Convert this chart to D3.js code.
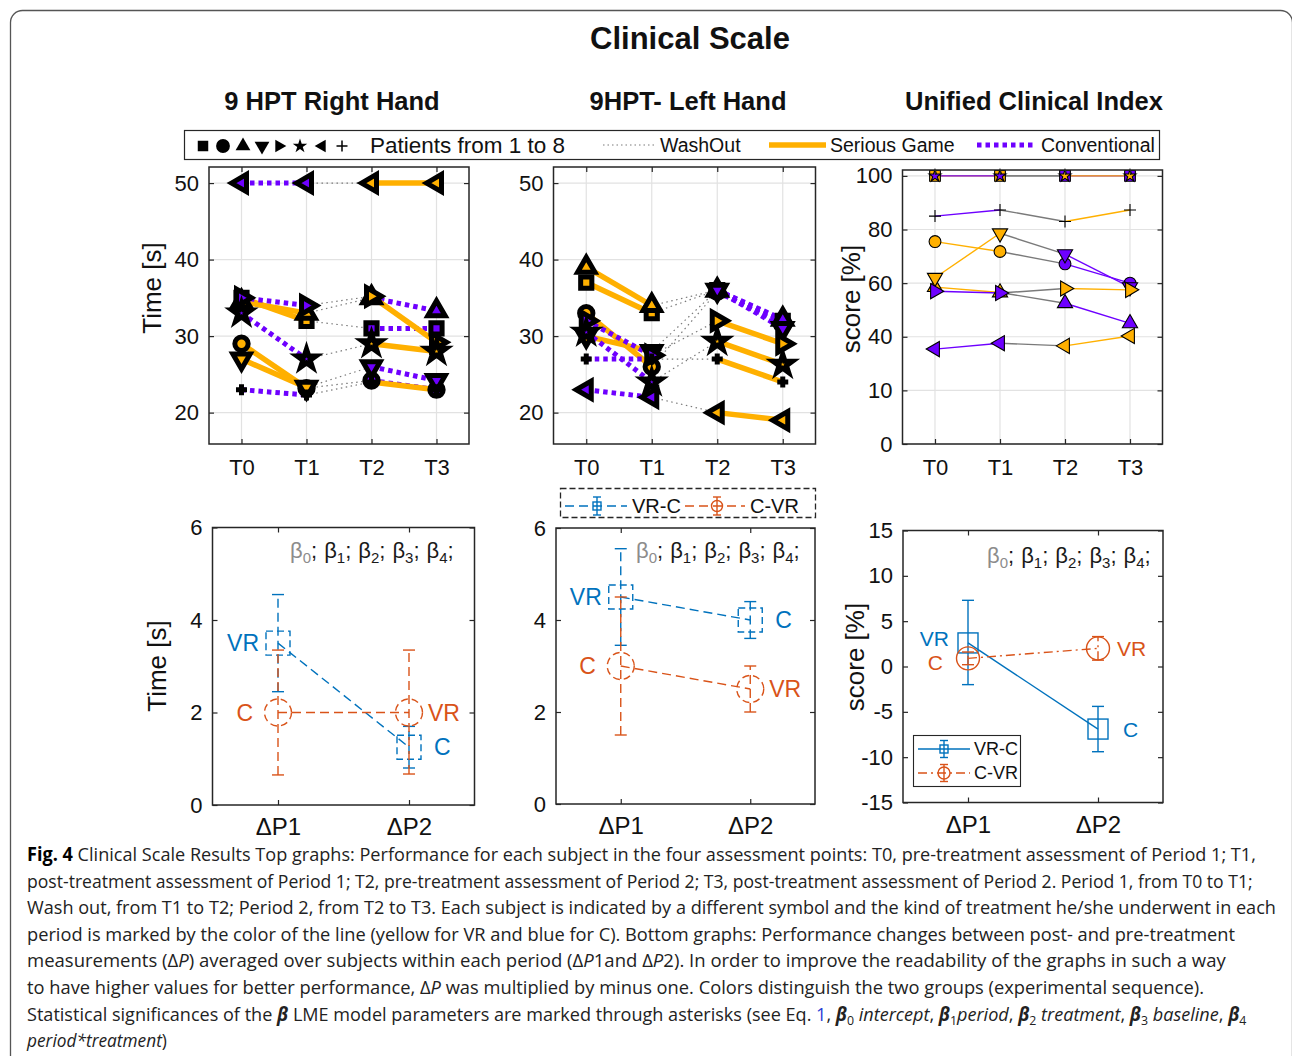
<!DOCTYPE html>
<html>
<head>
<meta charset="utf-8">
<script src="https://cdn.jsdelivr.net/npm/d3@7"></script>
<style>
  body { margin: 0; background: #fff; }
  svg text { font-family: "Liberation Sans", Arial, sans-serif; }
</style>
</head>
<body>
<div id="chart"></div>
<script>
// ---- data ----
var timePoints = ['T0', 'T1', 'T2', 'T3'];
var patientMarkers = ['square', 'circle', 'up', 'down', 'right', 'star', 'left', 'plus'];
var patientGroup = ['VR-C', 'VR-C', 'VR-C', 'VR-C', 'C-VR', 'C-VR', 'C-VR', 'C-VR'];

// 9 HPT right hand, time [s], one row per patient (T0..T3)
var rightHand = [
  [35, 32, 31, 31],
  [29, 23.2, 24.2, 23],
  [34.5, 33, 35, 33.3],
  [27, 23.3, 26, 24.2],
  [35, 34, 35.2, 29.2],
  [33, 27, 29, 28],
  [50, 50, 50, 50],
  [23, 22.3, 24, 23]
];
// 9HPT left hand
var leftHand = [
  [37, 33, 36, 32],
  [33, 26, 35.8, 31.5],
  [39, 34, 36, 32.2],
  [30, 28, 36, 31],
  [32, 27.5, 32, 29],
  [30.5, 24, 29.3, 26.3],
  [23, 22, 20, 19],
  [27, 27, 27, 24]
];
// Unified clinical index, score [%]
var clinicalIndex = [
  [100, 100, 100, 100],
  [75.5, 71.8, 67.2, 60],
  [58.5, 56.5, 52.5, 45],
  [62, 78.6, 70.8, 58.5],
  [57, 56.3, 58, 57.5],
  [100, 100, 100, 100],
  [35.4, 37.6, 36.6, 40.3],
  [85, 87.3, 83, 87.3]
];
var timeTicks = [20, 30, 40, 50];
var indexTicks = [0, 20, 40, 60, 80, 100];
var indexTickLabels = ['0', '10', '40', '60', '80', '100'];

var deltaLabels = ['ΔP1', 'ΔP2'];
var deltaTicksTime = [0, 2, 4, 6];
var deltaTicksScore = [-15, -10, -5, 0, 5, 10, 15];

// bottom panels: mean and [low, high] ends of the error bars
var rightVRC = [3.5, 1.25];
var rightVRCErr = [[2.45, 4.55], [0.8, 1.7]];
var rightCVR = [2.0, 2.0];
var rightCVRErr = [[0.65, 3.35], [0.67, 3.35]];
var leftVRC = [4.5, 4.0];
var leftVRCErr = [[3.45, 5.55], [3.6, 4.4]];
var leftCVR = [3.0, 2.5];
var leftCVRErr = [[1.5, 4.5], [2.0, 3.0]];
var indexVRC = [2.6, -6.9];
var indexVRCErr = [[-2.0, 7.3], [-9.4, -4.4]];
var indexCVR = [0.9, 2.0];
var indexCVRErr = [[0.2, 1.6], [0.7, 3.3]];
var vrcPointLabels = ['VR', 'C'];
var cvrPointLabels = ['C', 'VR'];

// ---- setup ----
var W = 1292, H = 1056;
var colors = {
  sg: '#FFB000', conv: '#6E00FF', wash: '#7a7a7a',
  vrc: '#0072BD', cvr: '#D95319', axis: '#262626', grid: '#e2e2e2'
};
var periodTreat = { 'VR-C': ['sg', 'conv'], 'C-VR': ['conv', 'sg'] };
var markerRotation = { up: 0, down: 180, right: 90, left: -90 };
var font = '"Liberation Sans", Arial, sans-serif';

var svg = d3.select('#chart').append('svg')
    .attr('width', W)
    .attr('height', H);
svg.append('rect').attr('width', W).attr('height', H).attr('fill', '#fff');

// page frame
svg.append('rect')
    .attr('x', 10.5).attr('y', 10.5)
    .attr('width', 1282).attr('height', 1100)
    .attr('rx', 12)
    .attr('fill', 'none').attr('stroke', '#555').attr('stroke-width', 1.3);

function markerPath(kind, size) {
  if (kind === 'plus') return `M${-size},0H${size}M0,${-size}V${size}`;
  var types = { square: d3.symbolSquare, circle: d3.symbolCircle, star: d3.symbolStar };
  return d3.symbol(types[kind] || d3.symbolTriangle, size)();
}

function styleAxis(sel, fs) {
  sel.attr('font-size', fs).attr('font-family', font);
  sel.select('.domain').remove();
  sel.selectAll('line').attr('stroke', colors.axis).attr('stroke-width', 1.2);
  sel.selectAll('text').attr('fill', '#111');
}

function drawAxes(g, x, y, w, h, yTicks, yFormat, xPad, xFont) {
  var ya = d3.axisLeft(y).tickValues(yTicks).tickSize(-5).tickPadding(10)
      .tickFormat(yFormat || (d => String(d)));
  g.append('g').call(ya).call(styleAxis, 22);
  g.append('g').attr('transform', `translate(${w},0)`)
    .call(d3.axisRight(y).tickValues(yTicks).tickSize(-5).tickFormat(''))
    .call(styleAxis, 22);
  g.append('g').attr('transform', `translate(0,${h})`)
    .call(d3.axisBottom(x).tickSize(-5).tickPadding(xPad))
    .call(styleAxis, xFont);
  g.append('g')
    .call(d3.axisTop(x).tickSize(-5).tickFormat(''))
    .call(styleAxis, 22);
  g.append('rect')
    .attr('width', w).attr('height', h)
    .attr('fill', 'none').attr('stroke', colors.axis).attr('stroke-width', 1.5);
}

function yLabel(text, x, y) {
  svg.append('text')
    .attr('transform', `translate(${x},${y}) rotate(-90)`)
    .attr('text-anchor', 'middle')
    .attr('font-size', 26).attr('fill', '#111')
    .text(text);
}

// ---- top panels ----
function trendPanel(cfg) {
  var g = svg.append('g').attr('transform', `translate(${cfg.left},${cfg.top})`);
  var x = d3.scalePoint().domain(timePoints).range([0, cfg.width]).padding(0.5);
  var y = d3.scaleLinear().domain(cfg.yDomain).range([cfg.height, 0]);

  g.append('g').selectAll('line').data(cfg.ticks).join('line')
      .attr('x1', 0).attr('x2', cfg.width)
      .attr('y1', d => y(d)).attr('y2', d => y(d))
      .attr('stroke', colors.grid).attr('stroke-width', 1.2);
  g.append('g').selectAll('line').data(timePoints).join('line')
      .attr('x1', d => x(d)).attr('x2', d => x(d))
      .attr('y1', 0).attr('y2', cfg.height)
      .attr('stroke', colors.grid).attr('stroke-width', 1.2);

  var segs = [];
  cfg.data.forEach(function(vals, p) {
    var treat = periodTreat[patientGroup[p]];
    segs.push({ a: 0, b: 1, kind: treat[0], vals: vals, order: 1 });
    segs.push({ a: 1, b: 2, kind: 'wash', vals: vals, order: 0 });
    segs.push({ a: 2, b: 3, kind: treat[1], vals: vals, order: 1 });
  });
  segs.sort((s, t) => s.order - t.order);

  g.append('g').selectAll('line').data(segs).join('line')
      .attr('x1', d => x(timePoints[d.a])).attr('y1', d => y(d.vals[d.a]))
      .attr('x2', d => x(timePoints[d.b])).attr('y2', d => y(d.vals[d.b]))
      .attr('stroke', d => d.kind === 'wash' ? colors.wash : colors[d.kind])
      .attr('stroke-width', d => cfg.heavy ? (d.kind === 'wash' ? 1.2 : (d.kind === 'sg' ? 5.5 : 5)) : 1.4)
      .attr('stroke-dasharray', d => {
        if (!cfg.heavy) return null;
        if (d.kind === 'wash') return '1.5,3.5';
        if (d.kind === 'conv') return '4.5,4';
        return null;
      });

  var pts = [];
  cfg.data.forEach(function(vals, p) {
    var treat = periodTreat[patientGroup[p]];
    vals.forEach(function(v, i) {
      pts.push({ kind: patientMarkers[p], t: timePoints[i], v: v, fill: colors[treat[i < 2 ? 0 : 1]] });
    });
  });
  var sizes = cfg.heavy
    ? { square: 125, circle: 140, up: 130, down: 130, right: 130, left: 130, star: 115, plus: 5.5 }
    : { square: 115, circle: 110, up: 100, down: 100, right: 100, left: 100, star: 45, plus: 6 };

  g.append('g').selectAll('path').data(pts).join('path')
      .attr('transform', d => `translate(${x(d.t)},${y(d.v)}) rotate(${markerRotation[d.kind] || 0})`)
      .attr('d', d => markerPath(d.kind, sizes[d.kind]))
      .attr('fill', d => d.kind === 'plus' ? 'none' : d.fill)
      .attr('stroke', '#000')
      .attr('stroke-width', d => cfg.heavy ? 5 : 1.1)
      .attr('stroke-linejoin', 'miter');

  drawAxes(g, x, y, cfg.width, cfg.height, cfg.ticks, cfg.tickFormat, 15, 22);
}

trendPanel({ left: 209, top: 167, width: 260, height: 277, data: rightHand,
  yDomain: [15.9, 52.1], ticks: timeTicks, heavy: true });
trendPanel({ left: 553.5, top: 167, width: 262, height: 277, data: leftHand,
  yDomain: [15.9, 52.1], ticks: timeTicks, heavy: true });
trendPanel({ left: 902.5, top: 170, width: 260, height: 274, data: clinicalIndex,
  yDomain: [0, 102.2], ticks: indexTicks, heavy: false,
  tickFormat: (d, i) => indexTickLabels[i] });

yLabel('Time [s]', 161, 288);
yLabel('score [%]', 860, 299);

// ---- bottom panels ----
function deltaPanel(cfg) {
  var g = svg.append('g').attr('transform', `translate(${cfg.left},${cfg.top})`);
  var x = d3.scalePoint().domain(deltaLabels).range([0, cfg.width]).padding(0.5);
  var y = d3.scaleLinear().domain(cfg.yDomain).range([cfg.height, 0]);
  var labels = [];

  cfg.series.forEach(function(s) {
    var sg = g.append('g');
    sg.append('line')
        .attr('x1', x(deltaLabels[0])).attr('y1', y(s.mean[0]))
        .attr('x2', x(deltaLabels[1])).attr('y2', y(s.mean[1]))
        .attr('stroke', s.color).attr('stroke-width', 1.4)
        .attr('stroke-dasharray', s.dash);
    sg.selectAll('line.err').data(s.err).join('line')
        .attr('class', 'err')
        .attr('x1', (d, i) => x(deltaLabels[i])).attr('x2', (d, i) => x(deltaLabels[i]))
        .attr('y1', d => y(d[0])).attr('y2', d => y(d[1]))
        .attr('stroke', s.color).attr('stroke-width', 1.4)
        .attr('stroke-dasharray', s.dash);
    var caps = [];
    s.err.forEach((d, i) => { caps.push([i, d[0]]); caps.push([i, d[1]]); });
    sg.selectAll('line.cap').data(caps).join('line')
        .attr('class', 'cap')
        .attr('x1', d => x(deltaLabels[d[0]]) - 6).attr('x2', d => x(deltaLabels[d[0]]) + 6)
        .attr('y1', d => y(d[1])).attr('y2', d => y(d[1]))
        .attr('stroke', s.color).attr('stroke-width', 1.4);
    var ms = cfg.markerSize;
    if (s.marker === 'square') {
      sg.selectAll('rect').data(s.mean).join('rect')
          .attr('x', (d, i) => x(deltaLabels[i]) - ms / 2).attr('y', d => y(d) - ms / 2)
          .attr('width', ms).attr('height', ms)
          .attr('fill', 'none').attr('stroke', s.color).attr('stroke-width', 1.4)
          .attr('stroke-dasharray', cfg.markerDash);
    } else {
      sg.selectAll('circle').data(s.mean).join('circle')
          .attr('cx', (d, i) => x(deltaLabels[i])).attr('cy', d => y(d))
          .attr('r', ms / 2 + 1.5)
          .attr('fill', 'none').attr('stroke', s.color).attr('stroke-width', 1.4)
          .attr('stroke-dasharray', cfg.markerDash);
    }
    s.mean.forEach(function(d, i) {
      var off = s.labels[i] === 'C' ? 25 : 19;
      labels.push({ side: i, x: x(deltaLabels[i]) + (i === 0 ? -off : off), y: y(d), text: s.labels[i], color: s.color });
    });
  });

  // keep labels on the same side from sitting on top of each other
  [0, 1].forEach(function(side) {
    var ls = labels.filter(l => l.side === side).sort((a, b) => a.y - b.y);
    for (var k = 1; k < ls.length; k++) {
      var gap = ls[k].y - ls[k - 1].y;
      if (gap < cfg.labelGap) {
        var push = (cfg.labelGap - gap) / 2;
        ls[k - 1].y -= push;
        ls[k].y += push;
      }
    }
  });
  g.append('g').selectAll('text').data(labels).join('text')
      .attr('x', d => d.x).attr('y', d => d.y)
      .attr('dy', '0.36em')
      .attr('text-anchor', d => d.side === 0 ? 'end' : 'start')
      .attr('font-size', cfg.labelFont)
      .attr('fill', d => d.color)
      .text(d => d.text);

  // beta annotation
  var bt = svg.append('text')
      .attr('x', cfg.betaX).attr('y', cfg.betaY)
      .attr('font-size', 22).attr('fill', '#1a1a1a');
  [0, 1, 2, 3, 4].forEach(function(k) {
    var c = k === 0 ? '#8c8c8c' : '#1a1a1a';
    bt.append('tspan').attr('fill', c).attr('dx', k === 0 ? 0 : 7).text('β');
    bt.append('tspan').attr('fill', c).attr('font-size', 15).attr('dy', 5).text(k);
    bt.append('tspan').attr('dy', -5).text(';');
  });

  drawAxes(g, x, y, cfg.width, cfg.height, cfg.ticks, null, 13, 24);
}

deltaPanel({ left: 212.5, top: 527.5, width: 262, height: 277.5, yDomain: [0, 6],
  ticks: deltaTicksTime, markerSize: 24, markerDash: '7,4', betaX: 290, betaY: 558,
  labelFont: 23, labelGap: 17,
  series: [
    { mean: rightVRC, err: rightVRCErr, color: colors.vrc, marker: 'square', dash: '9,5', labels: vrcPointLabels },
    { mean: rightCVR, err: rightCVRErr, color: colors.cvr, marker: 'circle', dash: '9,5', labels: cvrPointLabels }
  ] });
deltaPanel({ left: 556, top: 528, width: 259, height: 276, yDomain: [0, 6],
  ticks: deltaTicksTime, markerSize: 24, markerDash: '7,4', betaX: 636, betaY: 558,
  labelFont: 23, labelGap: 17,
  series: [
    { mean: leftVRC, err: leftVRCErr, color: colors.vrc, marker: 'square', dash: '9,5', labels: vrcPointLabels },
    { mean: leftCVR, err: leftCVRErr, color: colors.cvr, marker: 'circle', dash: '9,5', labels: cvrPointLabels }
  ] });
deltaPanel({ left: 903, top: 530.5, width: 260, height: 272, yDomain: [-15, 15],
  ticks: deltaTicksScore, markerSize: 20, markerDash: null, betaX: 987, betaY: 563,
  labelFont: 21, labelGap: 24,
  series: [
    { mean: indexVRC, err: indexVRCErr, color: colors.vrc, marker: 'square', dash: null, labels: vrcPointLabels },
    { mean: indexCVR, err: indexCVRErr, color: colors.cvr, marker: 'circle', dash: '9,4,2,4', labels: cvrPointLabels }
  ] });

yLabel('Time [s]', 166, 666);
yLabel('score [%]', 864, 657);

// ---- titles ----
svg.append('text').attr('x', 690).attr('y', 49).attr('text-anchor', 'middle')
    .attr('font-size', 31).attr('font-weight', 'bold').attr('fill', '#111').text('Clinical Scale');
[['9 HPT Right Hand', 332], ['9HPT- Left Hand', 688], ['Unified Clinical Index', 1034]].forEach(function(t) {
  svg.append('text').attr('x', t[1]).attr('y', 110).attr('text-anchor', 'middle')
      .attr('font-size', 25.5).attr('font-weight', 'bold').attr('fill', '#111').text(t[0]);
});

// ---- top legend ----
var lg = svg.append('g');
lg.append('rect').attr('x', 184.5).attr('y', 130.5).attr('width', 975).attr('height', 29)
    .attr('fill', '#fff').attr('stroke', colors.axis).attr('stroke-width', 1.2);
var legSymX = [203, 223, 243, 262, 279, 300, 322, 342];
var legSizes = { square: 110, circle: 150, up: 95, down: 95, right: 70, left: 70, star: 65, plus: 5.5 };
lg.selectAll('path').data(patientMarkers).join('path')
    .attr('transform', (d, i) => `translate(${legSymX[i]},146) rotate(${markerRotation[d] || 0})`)
    .attr('d', d => markerPath(d, legSizes[d]))
    .attr('fill', d => d === 'plus' ? 'none' : '#000')
    .attr('stroke', d => d === 'plus' ? '#000' : 'none')
    .attr('stroke-width', 1.5);
lg.append('text').attr('x', 370).attr('y', 153).attr('font-size', 22.5).attr('fill', '#111')
    .text('Patients from 1 to 8');
var legLines = [
  { x1: 603, x2: 657, color: colors.wash, w: 1.1, dash: '1.5,3', label: 'WashOut', tx: 660 },
  { x1: 769, x2: 826, color: colors.sg, w: 5.5, dash: null, label: 'Serious Game', tx: 830 },
  { x1: 977, x2: 1034, color: colors.conv, w: 5, dash: '4.5,4', label: 'Conventional', tx: 1041 }
];
legLines.forEach(function(l) {
  lg.append('line').attr('x1', l.x1).attr('x2', l.x2).attr('y1', 145).attr('y2', 145)
      .attr('stroke', l.color).attr('stroke-width', l.w).attr('stroke-dasharray', l.dash);
  lg.append('text').attr('x', l.tx).attr('y', 152).attr('font-size', 19.5).attr('fill', '#111').text(l.label);
});

// ---- bottom legends ----
function legendEntry(g, cx, y, lx1, lx2, color, dash, marker, msize, label, tx, ebHalf, fs) {
  g.append('line').attr('x1', lx1).attr('x2', lx2).attr('y1', y).attr('y2', y)
      .attr('stroke', color).attr('stroke-width', 1.4).attr('stroke-dasharray', dash);
  g.append('line').attr('x1', cx).attr('x2', cx).attr('y1', y - ebHalf).attr('y2', y + ebHalf)
      .attr('stroke', color).attr('stroke-width', 1.4);
  [y - ebHalf, y + ebHalf].forEach(function(yy) {
    g.append('line').attr('x1', cx - 4).attr('x2', cx + 4).attr('y1', yy).attr('y2', yy)
        .attr('stroke', color).attr('stroke-width', 1.4);
  });
  if (marker === 'square') {
    g.append('rect').attr('x', cx - msize / 2).attr('y', y - msize / 2).attr('width', msize).attr('height', msize)
        .attr('fill', 'none').attr('stroke', color).attr('stroke-width', 1.4);
  } else {
    g.append('circle').attr('cx', cx).attr('cy', y).attr('r', msize / 2)
        .attr('fill', 'none').attr('stroke', color).attr('stroke-width', 1.4);
  }
  g.append('text').attr('x', tx).attr('y', y).attr('dy', '0.36em')
      .attr('font-size', fs).attr('fill', '#111').text(label);
}
var ml = svg.append('g');
ml.append('rect').attr('x', 560.5).attr('y', 488.5).attr('width', 255).attr('height', 29)
    .attr('fill', '#fff').attr('stroke', colors.axis).attr('stroke-width', 1.3).attr('stroke-dasharray', '6,3');
legendEntry(ml, 597, 506, 565, 627, colors.vrc, '9,5', 'square', 8, 'VR-C', 632, 9, 20);
legendEntry(ml, 717, 506, 685, 745, colors.cvr, '9,5', 'circle', 11, 'C-VR', 750, 9, 20);

var rl = svg.append('g');
rl.append('rect').attr('x', 913.5).attr('y', 735.5).attr('width', 107).attr('height', 51)
    .attr('fill', '#fff').attr('stroke', colors.axis).attr('stroke-width', 1.1);
legendEntry(rl, 944, 749, 918, 970, colors.vrc, null, 'square', 8, 'VR-C', 974, 8.5, 18);
legendEntry(rl, 944, 773, 918, 970, colors.cvr, '9,4,2,4', 'circle', 12, 'C-VR', 974, 8.5, 18);

// ---- caption ----
var captionLines = [
  [['Fig. 4', 'b'], ['  Clinical Scale Results Top graphs: Performance for each subject in the four assessment points: T0, pre-treatment assessment of Period 1; T1,', '']],
  [['post-treatment assessment of Period 1; T2, pre-treatment assessment of Period 2; T3, post-treatment assessment of Period 2. Period 1, from T0 to T1;', '']],
  [['Wash out, from T1 to T2; Period 2, from T2 to T3. Each subject is indicated by a different symbol and the kind of treatment he/she underwent in each', '']],
  [['period is marked by the color of the line (yellow for VR and blue for C). Bottom graphs: Performance changes between post- and pre-treatment', '']],
  [['measurements (Δ', ''], ['P', 'i'], [') averaged over subjects within each period (Δ', ''], ['P', 'i'], ['1and Δ', ''], ['P', 'i'], ['2). In order to improve the readability of the graphs in such a way', '']],
  [['to have higher values for better performance, Δ', ''], ['P', 'i'], [' was multiplied by minus one. Colors distinguish the two groups (experimental sequence).', '']],
  [['Statistical significances of the ', ''], ['β', 'bi'], [' LME model parameters are marked through asterisks (see Eq. ', ''], ['1', 'link'], [', ', ''],
   ['β', 'bi'], ['0', 'sub'], [' intercept', 'i'], [', ', ''], ['β', 'bi'], ['1', 'sub'], ['period', 'i'], [', ', ''],
   ['β', 'bi'], ['2', 'sub'], [' treatment', 'i'], [', ', ''], ['β', 'bi'], ['3', 'sub'], [' baseline', 'i'], [', ', ''], ['β', 'bi'], ['4', 'sub']],
  [['period*treatment', 'i'], [')', '']]
];
var captionEnds = [1257, 1254, 1277, 1236, 1227, 1205, 1247, 167];
var cap = svg.append('g');
captionLines.forEach(function(line, li) {
  var t = cap.append('text')
      .attr('x', 0).attr('y', 0)
      .attr('font-size', 19).attr('fill', '#222')
      .style('font-family', '"Open Sans", "Noto Sans", sans-serif');
  var shifted = false;
  line.forEach(function(seg) {
    var sp = t.append('tspan').text(seg[0]);
    var st = seg[1];
    if (shifted && st !== 'sub') { sp.attr('dy', -4); shifted = false; }
    if (st === 'b') sp.attr('font-weight', 'bold').attr('fill', '#000');
    if (st === 'i') sp.attr('font-style', 'italic');
    if (st === 'bi') sp.attr('font-style', 'italic').attr('font-weight', 'bold');
    if (st === 'link') sp.attr('fill', '#2b3fd6');
    if (st === 'sub') { sp.attr('font-size', 13).attr('dy', 4); shifted = true; }
  });
  // squeeze each line horizontally to the width it has in the figure
  var natural = t.node().getComputedTextLength();
  var sx = (captionEnds[li] - 27) / natural;
  t.attr('transform', `translate(27,${861 + li * 26.6}) scale(${sx},1)`);
});
</script>
</body>
</html>
